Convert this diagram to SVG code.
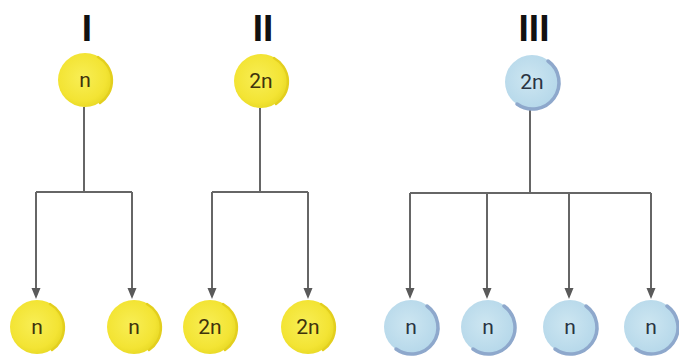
<svg xmlns="http://www.w3.org/2000/svg" width="679" height="363" viewBox="0 0 679 363">
<defs>
<radialGradient id="gy" cx="45%" cy="45%" r="55%">
<stop offset="0" stop-color="#f8ee55"/>
<stop offset="0.8" stop-color="#f3e434"/>
<stop offset="1" stop-color="#eadb28"/>
</radialGradient>
<radialGradient id="gb" cx="45%" cy="45%" r="55%">
<stop offset="0" stop-color="#cde6f1"/>
<stop offset="1" stop-color="#b6d8ea"/>
</radialGradient>
</defs>
<style>
.lab{font-family:"Liberation Sans",Arial,sans-serif;font-weight:bold;font-size:37px;fill:#111;text-anchor:middle}
.y{fill:url(#gy)}
.b{fill:url(#gb)}
.arc{fill:none;stroke:#8ea8cc;stroke-width:3.5;stroke-linecap:round}
.yarc{fill:none;stroke:#e3cf1e;stroke-width:2.5;stroke-linecap:round}
.t{font-family:"Roboto","Liberation Sans",sans-serif;font-size:21px;font-weight:normal;text-anchor:middle}
.ty{fill:#3f330c}
.tb{fill:#2a3442}
.ln{fill:none;stroke:#666;stroke-width:2}
.ah{fill:#5a5a5a}
</style>
<rect width="679" height="363" fill="#ffffff"/>
<text class="lab" x="87" y="41">I</text>
<text class="lab" x="263" y="41">II</text>
<text class="lab" x="534" y="41">III</text>
<g id="connectors">
<path class="ln" d="M84,107 V192 M36,192 H132 M36,192 V290 M132,192 V290"/>
<path class="ln" d="M260,108 V192 M212,192 H308 M212,192 V290 M308,192 V290"/>
<path class="ln" d="M530,109 V193 M410,193 H651 M410,193 V290 M487,193 V290 M569,193 V290 M651,193 V290"/>
<path class="ah" d="M31.5,288 H40.5 L36,299 Z M127.5,288 H136.5 L132,299 Z M207.5,288 H216.5 L212,299 Z M303.5,288 H312.5 L308,299 Z M405.5,288 H414.5 L410,299 Z M482.5,288 H491.5 L487,299 Z M564.5,288 H573.5 L569,299 Z M646.5,288 H655.5 L651,299 Z"/>
</g>
<g id="nodeI-top"><circle class="y" cx="85" cy="80" r="27"/><path class="yarc" d="M98,57 A27,27 0 0 1 100,103"/><text class="t ty" x="85" y="87">n</text></g>
<g id="nodeII-top"><circle class="y" cx="261" cy="81" r="27"/><path class="yarc" d="M274,58 A27,27 0 0 1 276,104"/><text class="t ty" x="261" y="88">2n</text></g>
<g id="nodeIII-top"><circle class="b" cx="532" cy="82" r="27"/><path class="arc" d="M548,61 A26,26 0 0 1 517,104"/><text class="t tb" x="532" y="89">2n</text></g>
<g id="nodeI-b1"><circle class="y" cx="37" cy="327" r="27"/><path class="yarc" d="M50,304 A27,27 0 0 1 52,350"/><text class="t ty" x="37" y="334">n</text></g>
<g id="nodeI-b2"><circle class="y" cx="134" cy="327" r="27"/><path class="yarc" d="M147,304 A27,27 0 0 1 149,350"/><text class="t ty" x="134" y="334">n</text></g>
<g id="nodeII-b1"><circle class="y" cx="210" cy="327" r="27"/><path class="yarc" d="M223,304 A27,27 0 0 1 225,350"/><text class="t ty" x="210" y="334">2n</text></g>
<g id="nodeII-b2"><circle class="y" cx="308" cy="327" r="27"/><path class="yarc" d="M321,304 A27,27 0 0 1 323,350"/><text class="t ty" x="308" y="334">2n</text></g>
<g id="nodeIII-b1"><circle class="b" cx="411" cy="327" r="27"/><path class="arc" d="M427,306 A26,26 0 0 1 396,349"/><text class="t tb" x="411" y="334">n</text></g>
<g id="nodeIII-b2"><circle class="b" cx="488" cy="327" r="27"/><path class="arc" d="M504,306 A26,26 0 0 1 473,349"/><text class="t tb" x="488" y="334">n</text></g>
<g id="nodeIII-b3"><circle class="b" cx="570" cy="327" r="27"/><path class="arc" d="M586,306 A26,26 0 0 1 555,349"/><text class="t tb" x="570" y="334">n</text></g>
<g id="nodeIII-b4"><circle class="b" cx="651" cy="327" r="27"/><path class="arc" d="M667,306 A26,26 0 0 1 636,349"/><text class="t tb" x="651" y="334">n</text></g>
</svg>
